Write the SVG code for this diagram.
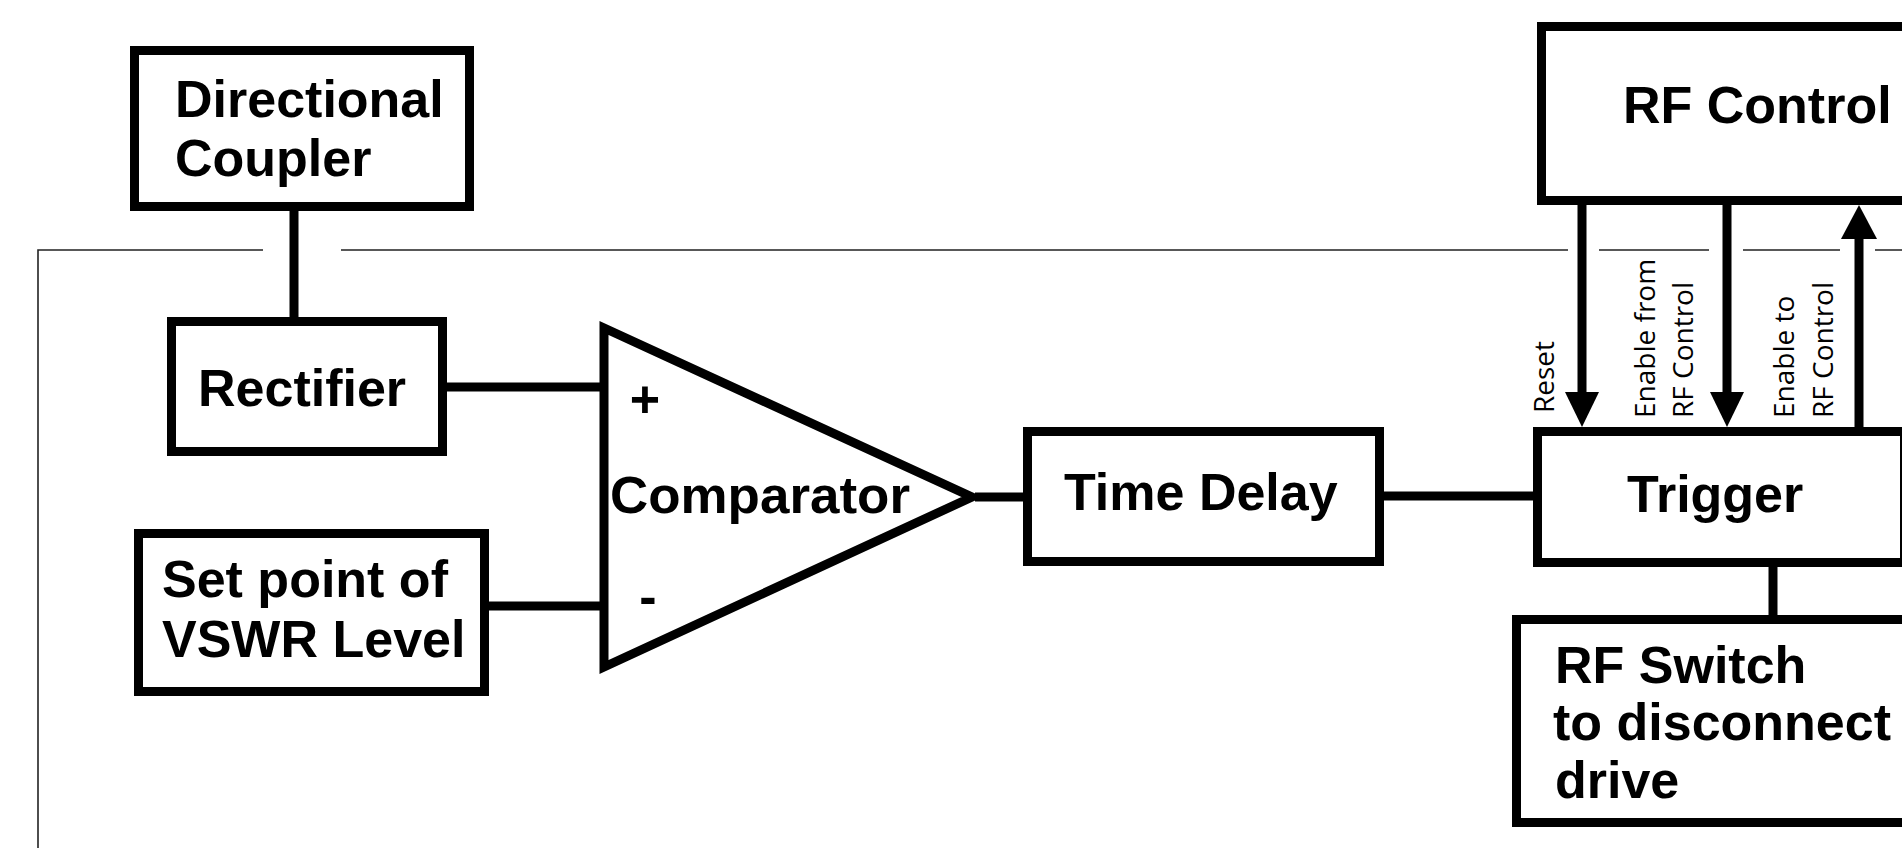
<svg xmlns="http://www.w3.org/2000/svg" width="1902" height="848" viewBox="0 0 1902 848">
<style>
.box{fill:#fff;stroke:#000;stroke-width:9}
.t{font-family:"Liberation Sans",Arial,sans-serif;font-weight:bold;font-size:52px;fill:#000}
.lbl{font-family:"Open Sans","Noto Sans",sans-serif;font-size:28px;fill:#000}
.wire{stroke:#000;stroke-width:9;fill:none}
.frame{stroke:#222;stroke-width:1.6;fill:none}
</style>
<rect width="1902" height="848" fill="#fff"/>
<g id="frame">
<path class="frame" d="M38,848 V250 H263 M341,250 H1568 M1599,250 H1709 M1743,250 H1840 M1875,250 H1902"/>
</g>
<g id="connectors">
<line class="wire" x1="294" y1="211" x2="294" y2="317" stroke-width="8"/>
<line class="wire" x1="447" y1="387" x2="604" y2="387" stroke-width="8"/>
<line class="wire" x1="489" y1="606" x2="604" y2="606" stroke-width="8"/>
<line class="wire" x1="975" y1="497" x2="1023" y2="497" stroke-width="8"/>
<line class="wire" x1="1384" y1="496" x2="1533" y2="496" stroke-width="8"/>
<line class="wire" x1="1773" y1="567" x2="1773" y2="615"/>
<line class="wire" x1="1582" y1="205" x2="1582" y2="395"/>
<polygon points="1565,392 1599,392 1582,427" fill="#000"/>
<line class="wire" x1="1727" y1="205" x2="1727" y2="395"/>
<polygon points="1710,392 1744,392 1727,427" fill="#000"/>
<line class="wire" x1="1859" y1="427" x2="1859" y2="236"/>
<polygon points="1841,239 1877,239 1859,205" fill="#000"/>
<text class="lbl" transform="translate(1554,413) rotate(-90)">Reset</text>
<text class="lbl" transform="translate(1655,418) rotate(-90)">Enable from</text>
<text class="lbl" transform="translate(1693,418) rotate(-90)">RF Control</text>
<text class="lbl" transform="translate(1794,418) rotate(-90)">Enable to</text>
<text class="lbl" transform="translate(1833,418) rotate(-90)">RF Control</text>
</g>
<g id="directional-coupler">
<rect class="box" x="134.5" y="50.5" width="335" height="156"/>
<text class="t" x="175" y="117">Directional</text>
<text class="t" x="175" y="176">Coupler</text>
</g>
<g id="rectifier">
<rect class="box" x="171.5" y="321.5" width="271" height="130"/>
<text class="t" x="198" y="406">Rectifier</text>
</g>
<g id="set-point">
<rect class="box" x="138.5" y="533.5" width="346" height="158"/>
<text class="t" x="162" y="597">Set point of</text>
<text class="t" x="162" y="657">VSWR Level</text>
</g>
<g id="comparator">
<polygon points="604,328 604,667 972,497" fill="#fff" stroke="#000" stroke-width="9" stroke-linejoin="miter" stroke-miterlimit="10"/>
<text class="t" x="645" y="417" text-anchor="middle">+</text>
<text class="t" x="648" y="614" text-anchor="middle">-</text>
<text class="t" x="610" y="513" textLength="300" lengthAdjust="spacingAndGlyphs">Comparator</text>
</g>
<g id="time-delay">
<rect class="box" x="1027.5" y="431.5" width="352" height="130"/>
<text class="t" x="1064" y="510">Time Delay</text>
</g>
<g id="trigger">
<rect class="box" x="1537.5" y="431.5" width="367" height="131"/>
<text class="t" x="1627" y="512">Trigger</text>
</g>
<g id="rf-switch">
<rect class="box" x="1516.5" y="619.5" width="400" height="203"/>
<text class="t" x="1555" y="683">RF Switch</text>
<text class="t" x="1553" y="740">to disconnect</text>
<text class="t" x="1555" y="798">drive</text>
</g>
<g id="rf-control">
<rect class="box" x="1541.5" y="26.5" width="400" height="174"/>
<text class="t" x="1623" y="123">RF Control</text>
</g>
</svg>
